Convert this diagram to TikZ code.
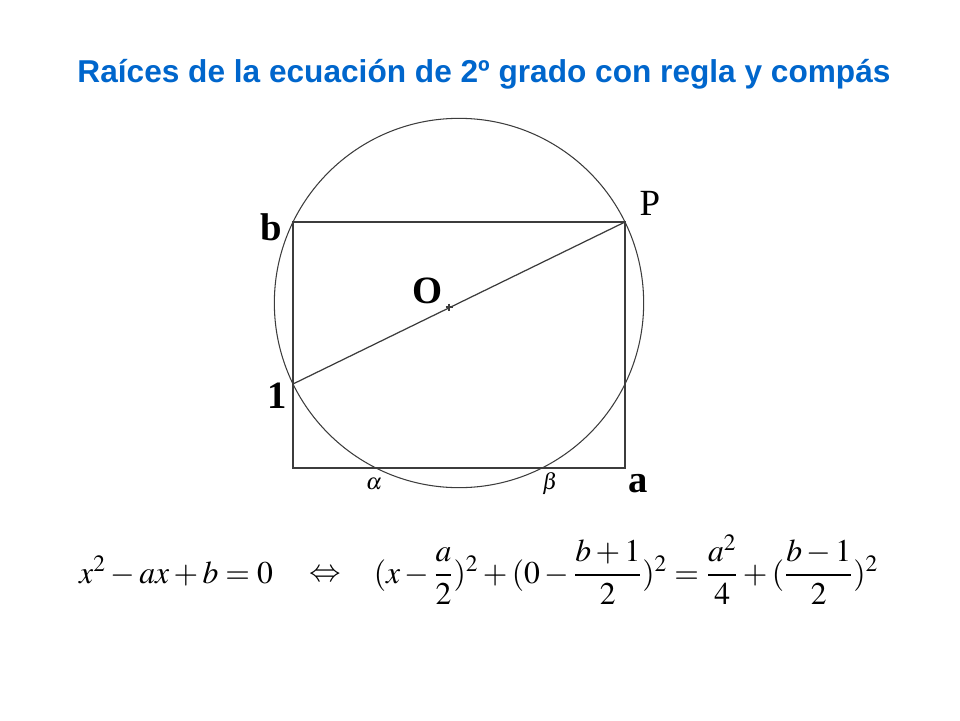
\documentclass[tikz,border=0pt]{standalone}
\usepackage{amsmath}
\usepackage{mathptmx}
\usepackage{fontspec}
\setmainfont{Liberation Serif}
\newfontfamily\titlefont{Liberation Sans}
\definecolor{titleblue}{RGB}{0,102,204}
\definecolor{linegray}{RGB}{60,60,60}
\tikzset{
  lbl/.style={font=\bfseries\fontsize{22}{24}\selectfont},
  greek/.style={font=\fontsize{13}{15}\selectfont},
  eq/.style={font=\fontsize{18}{22}\selectfont, anchor=base, inner sep=0pt},
  geom/.style={draw=linegray, line width=0.7pt}
}
\begin{document}
\begin{tikzpicture}[x=0.02cm, y=-0.02cm]
   \useasboundingbox (0,0) rectangle (960,720);
   \node (T) at (484,74) {\titlefont\bfseries\fontsize{18}{21}\selectfont\color{titleblue}Raíces de la ecuación de 2º grado con regla y compás};

   \coordinate (C) at (293,468);
   \coordinate (A) at (625,468);
   \coordinate (P) at (625,222);
   \coordinate (B) at (293,222);
   \coordinate (U) at (293,384);
   \coordinate (O) at (459,303);
   \coordinate (M) at (449,307);

   \draw[geom] (C) -- (A) -- (P) -- (B) -- cycle;
   \draw[geom] (U) -- (P);
   \draw[geom, line width=0.6pt] (O) circle[radius=3.694cm];
   \draw[geom, line width=0.9pt] (M) +(-3.5,0) -- +(3.5,0) (M) +(0,-3.5) -- +(0,3.5);

   \node[lbl] (lb) at (271,227) {b};
   \node[lbl] (l1) at (277,396) {1};
   \node[lbl] (la) at (638,484) {a};
   \node[lbl] (lO) at (428,291) {O};
   \node[font=\fontsize{21}{24}\selectfont] (lP) at (650,203) {P};
   \node[greek] (alpha) at (374,484) {$\alpha$};
   \node[greek] (beta) at (550,484) {$\beta$};

   \node[eq] (lhs) at (176,583) {$x^2-ax+b=0$};
   \node[eq] (iff) at (325,581) {$\Leftrightarrow$};
   \node[eq] (rhs) at (626,583) {$(x-\dfrac{a}{2})^2+(0-\dfrac{b+1}{2})^2=\dfrac{a^2}{4}+(\dfrac{b-1}{2})^2$};
\end{tikzpicture}
\end{document}
